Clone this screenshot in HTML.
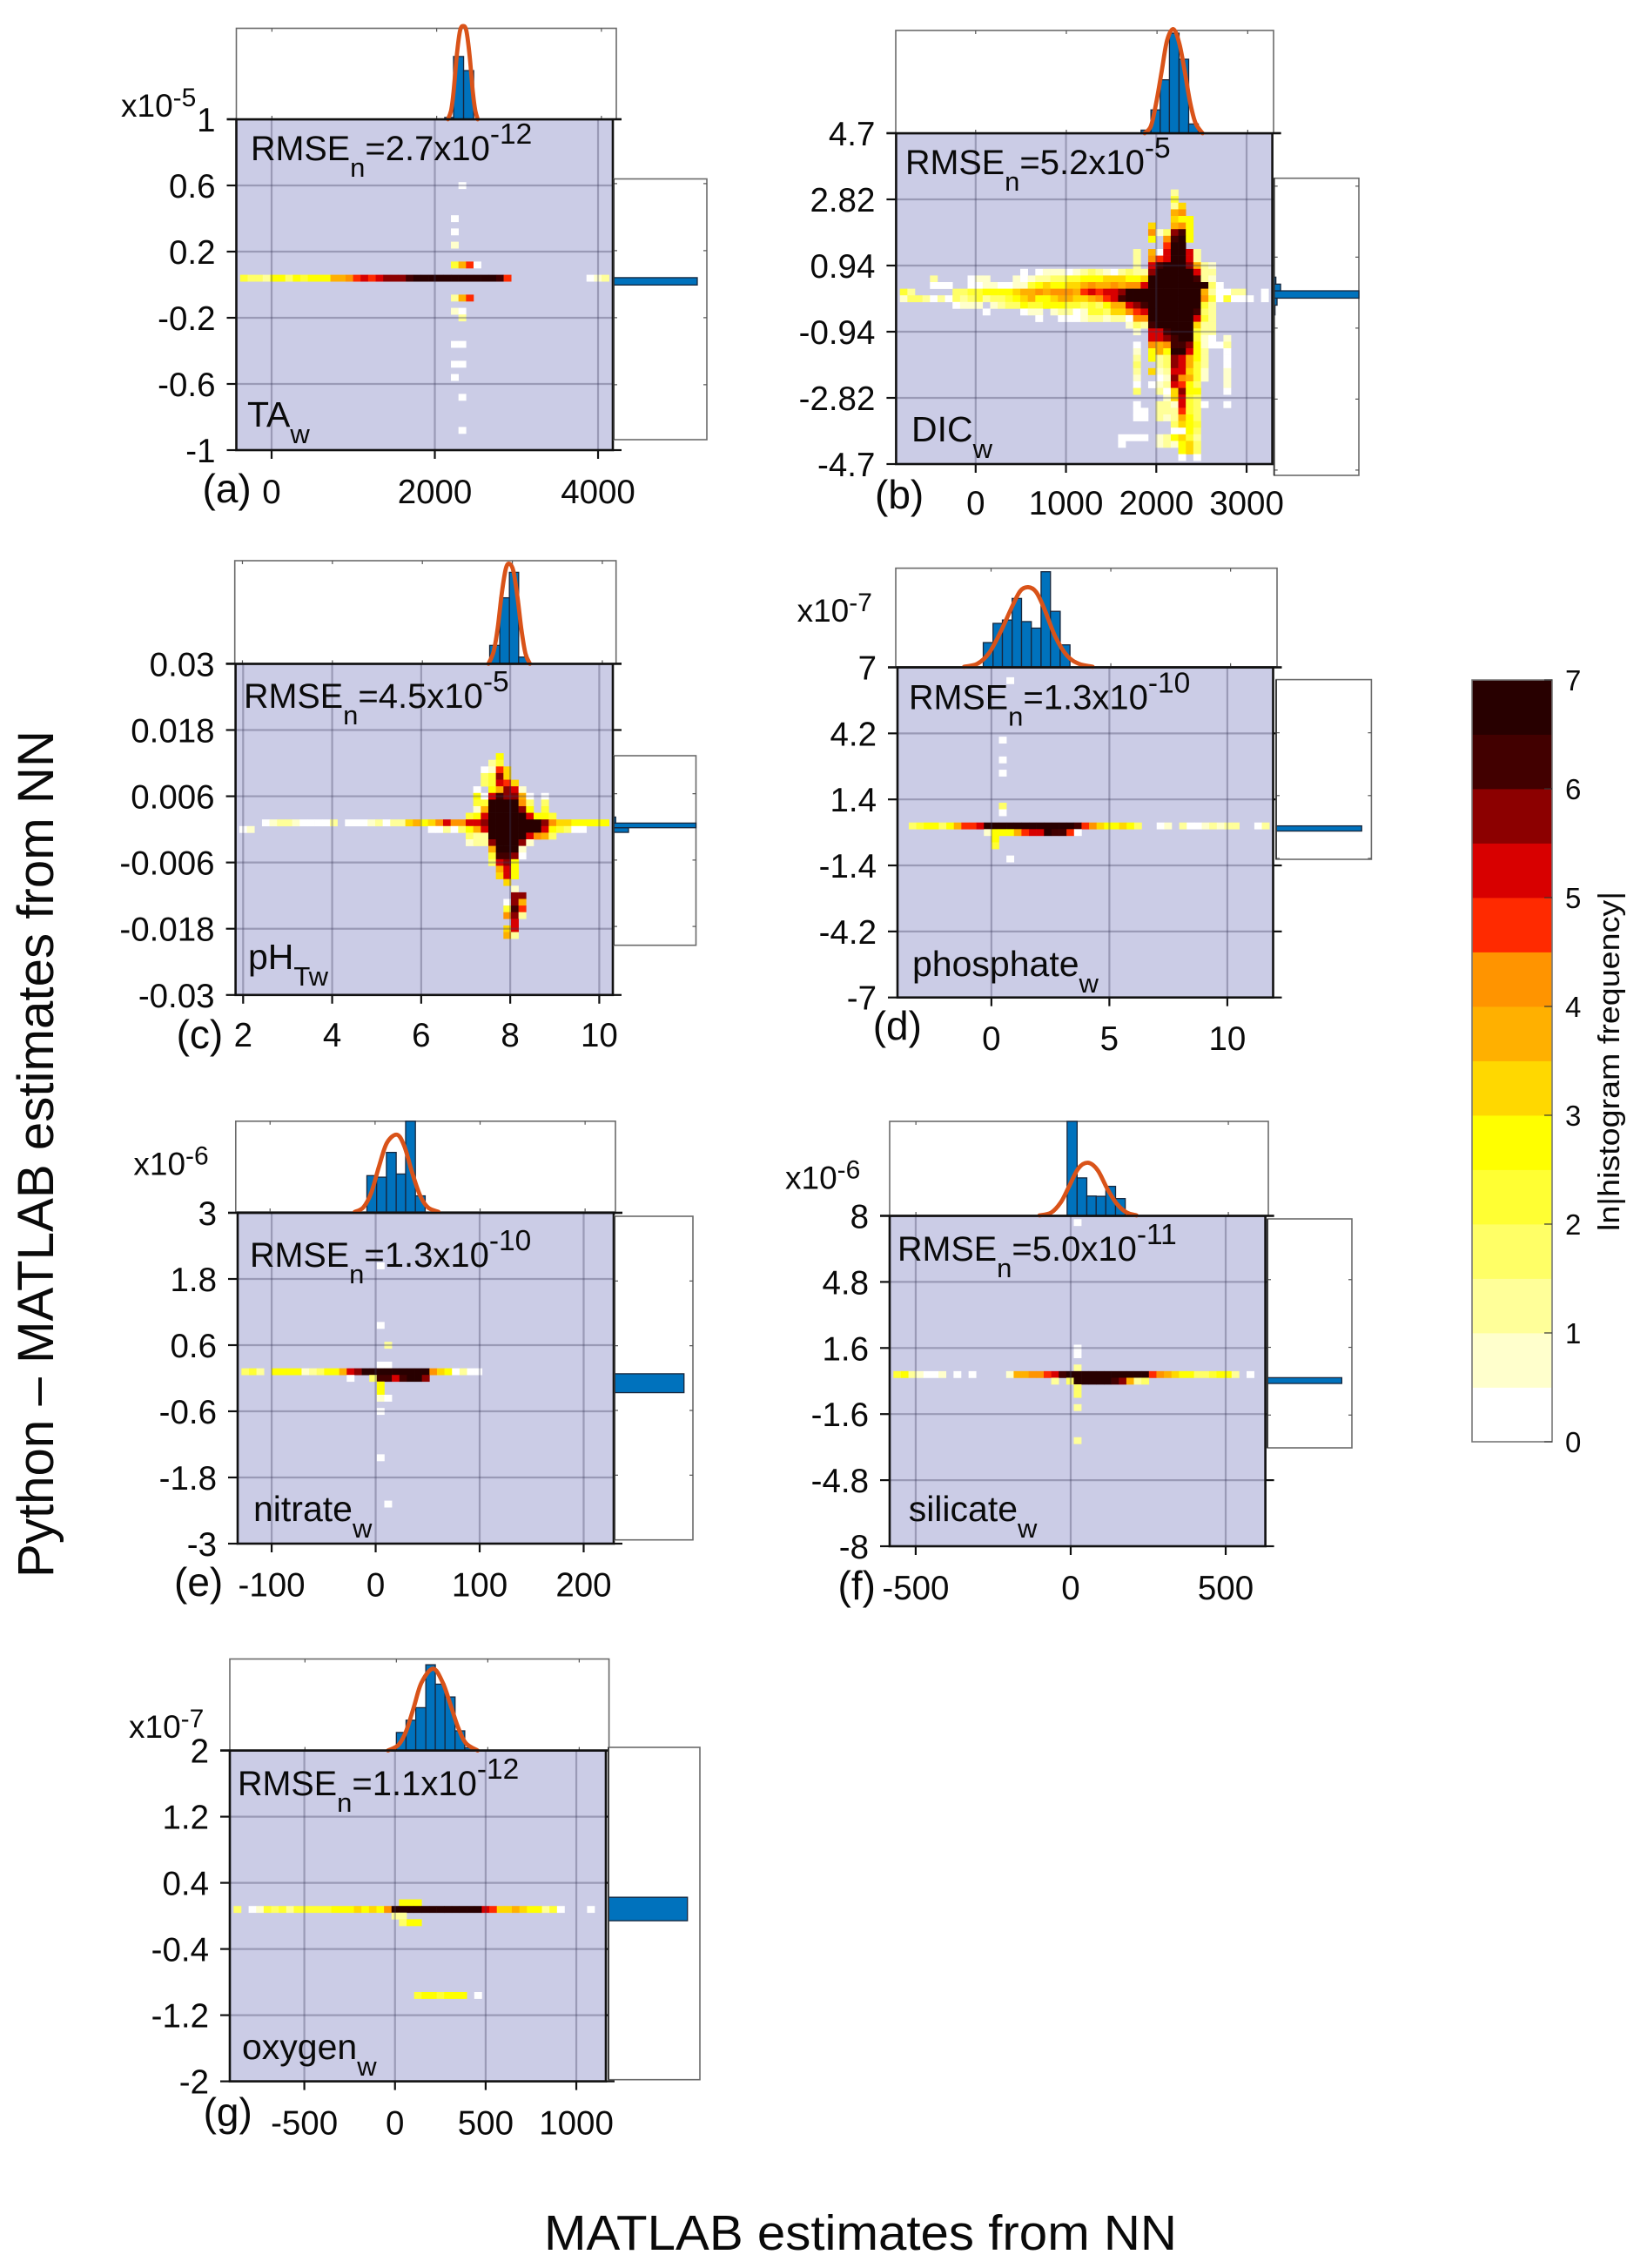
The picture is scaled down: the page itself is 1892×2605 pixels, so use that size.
<!DOCTYPE html>
<html lang="en">
<head>
<meta charset="utf-8">
<title>Python minus MATLAB estimates from NN</title>
<style>
html,body{margin:0;padding:0;background:#fff;}
svg{display:block;font-family:"Liberation Sans",Arial,sans-serif;}
text{fill:#0a0a0a;}
</style>
</head>
<body>
<svg id="figure" xmlns="http://www.w3.org/2000/svg" width="1892" height="2605" viewBox="0 0 1892 2605">
  <rect x="0" y="0" width="1892" height="2605" fill="#ffffff"/>
  <text transform="translate(61,1812) rotate(-90)" font-size="58" textLength="973" lengthAdjust="spacingAndGlyphs">Python – MATLAB estimates from NN</text>
  <text x="625" y="2584" font-size="57" textLength="727" lengthAdjust="spacingAndGlyphs">MATLAB estimates from NN</text>
  <g id="panels"></g>
  <g id="colorbar"></g>
  <text transform="translate(1860,1414) rotate(-90)" font-size="34" textLength="390" lengthAdjust="spacingAndGlyphs">ln|histogram frequency|</text>
</svg>
<script>
/* ---------- colour scale ---------- */
const cbColors = ['#ffffff','#ffffcc','#ffff99','#ffff66','#ffff33','#ffff00','#ffd800','#ffb000','#ff9400','#ff2a00','#d80000','#8c0000','#420000','#280000'];
const cbTicks = [0,1,2,3,4,5,6,7];

/* ---------- panel (a) TA ---------- */
const aXTicks = [0,2000,4000];
const aXLabels = ['0','2000','4000'];
const aYTicks = [1,0.6,0.2,-0.2,-0.6,-1];
const aYLabels = ['1','0.6','0.2','-0.2','-0.6','-1'];
const aHistEdges = [2098,2205,2327,2449];
const aHistFreq = [0.02,0.69,0.535];
const aCurveX = [2137,2176,2205,2244,2283,2322,2361,2400,2439,2468,2498];
const aCurveY = [0,0.1,0.3,0.7,0.97,1.025,0.97,0.7,0.3,0.1,0];
const aSideEdges = [-0.005,0.0388];
const aSideFreq = [0.897];
const aHeat = [
[10,30,"0"],[15,29,"0"],[17,29,"0"],[19,29,"1"],[22,29,"4790"],
[24,1,"4332553545557789a9abbbcdddddddddddc9"],[24,47,"012"],
[27,29,"279"],[29,29,"10"],[30,30,"2"],[34,29,"00"],[37,29,"00"],[39,29,"0"],[42,30,"0"],[47,30,"0"]
];

/* ---------- panel (b) DIC ---------- */
const bXTicks = [0,1000,2000,3000];
const bXLabels = ['0','1000','2000','3000'];
const bYTicks = [4.7,2.82,0.94,-0.94,-2.82,-4.7];
const bYLabels = ['4.7','2.82','0.94','-0.94','-2.82','-4.7'];
const bHistEdges = [1824,1933,2035,2137,2243,2349,2455];
const bHistFreq = [0.03,0.227,0.52,0.974,0.72,0.09];
const bCurveX = [1863,1933,1992,2051,2110,2180,2247,2306,2365,2424,2502];
const bCurveY = [0,0.07,0.3,0.6,0.9,1.013,0.87,0.6,0.3,0.1,0];
const bSideEdges = [-0.59,-0.332,-0.146,0.048,0.225,0.41];
const bSideFreq = [0.01,0.034,1,0.076,0.02];
const bHeat = [
[9,37,"2"],[10,37,"4"],[11,37,"26"],[12,37,"78"],[13,37,"655"],[14,34,"6..785"],[15,34,"813bc5"],[16,34,"5.8cd5"],[17,36,"9dd"],
[18,32,"2.70adda2"],[19,32,"2.89adda2"],[20,32,"2.acdddb721"],
[21,17,"0.011101232102322bddddda22"],
[22,5,"2"],[22,10,"011...101223344555666556ddddddc21"],
[23,5,"000"],[23,10,"00110011456556678778788adddddddd30"],
[24,1,"42"],[24,8,"33445555677878887"+"9a9aab"+"dddddddddd"+"720022..0"],
[25,1,"133202032342334567556"+"7766"+"789ac"+"dddddddddd"+"8404000.0"],
[26,8,"0111."+"123354455544343577abc"+"ddddddd"+"42"],
[27,12,"0"],[27,17,"011.122014436689a"+"dddddd"+"c32"],
[28,19,"0..000122122088"+"dddddd"+"a42"],
[29,31,"132cddddd622"],[30,32,"1.aacddd422"],[31,34,"aabcdd410.1"],[32,32,"0.878ccb51002"],
[33,32,"1.575dda52..0"],[34,32,"2.523ba752..0"],[35,32,"3..23ba742..0"],[36,32,"2.612aa641..1"],[37,32,"1..01b8741..1"],
[38,32,"0.012a953...1"],[39,32,"3..206b55...0"],[40,36,"16a43"],[41,32,"0..221a430..0"],[42,32,"00.222943"],[43,32,"00.212753"],
[44,37,"3654"],[45,37,"0053"],[46,30,"0000.125642"],[47,30,"0....121563"],[48,38,"563"],[49,38,"0.0"]
];

/* ---------- panel (c) pH ---------- */
const cXTicks = [2,4,6,8,10];
const cXLabels = ['2','4','6','8','10'];
const cYTicks = [0.03,0.018,0.006,-0.006,-0.018,-0.03];
const cYLabels = ['0.03','0.018','0.006','-0.006','-0.018','-0.03'];
const cHistEdges = [7.496,7.72,7.934,8.14,8.345];
const cHistFreq = [0.178,0.64,0.887,0.065];
const cCurveX = [7.469,7.585,7.675,7.764,7.853,7.934,8.023,8.113,8.202,8.291,8.39];
const cCurveY = [0,0.12,0.35,0.68,0.92,0.97,0.9,0.65,0.33,0.1,0];
const cSideEdges = [-0.00099,-0.00015,0.00069,0.00178];
const cSideFreq = [0.18,1,0.024];
const cHeat = [
[14,35,"5"],[15,34,"24"],[16,33,"0196"],[17,33,"34b6"],[18,33,"34a96"],[19,32,"0.57ba1"],[20,32,"50acbb70.0"],
[21,32,"44dddd83.3"],[22,32,"17ddddb5.4"],[23,31,"45addddda554"],
[24,4,"0122100002"],[24,15,"0001202267568a88aab"+"ddddddd"+"b86655555"],
[25,1,"01"],[25,26,"0020357a"+"ddddddd"+"a54300"],
[26,31,"322ddddda873"],[27,31,"122bdddb1"],[28,34,"7ddd1"],[29,34,"4ccb0"],[30,34,"3ab5"],[31,35,"7a5"],[32,35,"6a5"],[33,36,"6"],[34,37,"1"],
[35,37,"bb"],[36,36,"0b7"],[37,36,"4c9"],[38,36,"8b2"],[39,37,"a"],[40,36,"6a"],[41,36,"72"]
];

/* ---------- panel (d) phosphate ---------- */
const dXTicks = [0,5,10];
const dXLabels = ['0','5','10'];
const dYTicks = [7,4.2,1.4,-1.4,-4.2,-7];
const dYLabels = ['7','4.2','1.4','-1.4','-4.2','-7'];
const dHistEdges = [-0.326,0.082,0.473,0.881,1.272,1.68,2.088,2.48,2.887,3.295];
const dHistFreq = [0.245,0.44,0.474,0.693,0.458,0.392,0.964,0.562,0.222];
const dCurveX = [-1.126,-0.571,-0.082,0.408,0.897,1.223,1.55,1.876,2.202,2.692,3.181,3.67,4.241];
const dCurveY = [0,0.03,0.14,0.36,0.62,0.77,0.807,0.76,0.6,0.3,0.11,0.03,0];
const dSideEdges = [-0.18,0.05];
const dSideFreq = [0.898];
const dHeat = [
[2,15,"0"],[11,14,"0"],[14,14,"0"],[16,14,"0"],[21,14,"3"],[22,14,"0"],
[24,2,"345535799a"+"dddddddddddd"+"c98655653"],[24,35,"01"],[24,38,"20012122"],[24,48,"02"],
[25,12,"155579aadcc90"],[26,13,"5"],[27,13,"4"],[29,15,"0"]
];

/* ---------- panel (e) nitrate ---------- */
const eXTicks = [-100,0,100,200];
const eXLabels = ['-100','0','100','200'];
const eYTicks = [3,1.8,0.6,-0.6,-1.8,-3];
const eYLabels = ['3','1.8','0.6','-0.6','-1.8','-3'];
const eHistEdges = [-7.8,1.5,10.8,20.1,29.1,38.4,47.7];
const eHistFreq = [0.4,0.383,0.656,0.418,1,0.177];
const eCurveX = [-19.4,-11.2,-3.7,3.7,11.2,20.9,28,35.4,42.9,50.3,60.4];
const eCurveY = [0,0.05,0.21,0.5,0.76,0.851,0.72,0.43,0.18,0.05,0];
const eSideEdges = [-0.27,0.08];
const eSideFreq = [0.886];
const eHeat = [
[8,19,"0"],[17,19,"0"],[20,20,"2"],[23,19,"00"],
[24,1,"342"],[24,5,"5555"+"123"+"55"+"7ab"+"ddddddddd"+"865"+"0200"],
[25,15,"0"],[25,18,"3ccacddb"],[26,19,"5"],[27,19,"5"],[28,19,"10"],[30,19,"0"],[37,19,"0"],[44,20,"0"]
];

/* ---------- panel (f) silicate ---------- */
const fXTicks = [-500,0,500];
const fXLabels = ['-500','0','500'];
const fYTicks = [8,4.8,1.6,-1.6,-4.8,-8];
const fYLabels = ['8','4.8','1.6','-1.6','-4.8','-8'];
const fHistEdges = [-16,16,47,77,108,139,170];
const fHistFreq = [1,0.399,0.206,0.203,0.309,0.179];
const fCurveX = [-104.5,-67,-36,-11,20,51,82,113,144,175,206];
const fCurveY = [0,0.03,0.14,0.3,0.5,0.56,0.48,0.28,0.12,0.03,0];
const fSideEdges = [-0.107,0.167];
const fSideFreq = [0.88];
const fHeat = [
[1,25,"0"],[20,25,"0"],[21,25,"0"],[23,25,"2"],
[24,1,"4521001"],[24,9,"0"],[24,11,"0"],[24,16,"177889ac"+"ddddddddddd"+"987655334552"],[24,48,"0"],
[25,22,"2.3"],[25,25,"ddddd"+"cb723"],[26,25,"3"],[27,25,"3"],[29,25,"2"],[34,25,"2"]
];

/* ---------- panel (g) oxygen ---------- */
const gXTicks = [-500,0,500,1000];
const gXLabels = ['-500','0','500','1000'];
const gYTicks = [2,1.2,0.4,-0.4,-1.2,-2];
const gYLabels = ['2','1.2','0.4','-0.4','-1.2','-2'];
const gHistEdges = [0,53,106,161,213,266,321,374,427];
const gHistFreq = [0.197,0.331,0.468,0.937,0.725,0.585,0.215,0.03];
const gCurveX = [-46,11,53,95,137,201,254,296,338,380,444];
const gCurveY = [0,0.06,0.21,0.47,0.74,0.894,0.74,0.5,0.25,0.08,0];
const gSideEdges = [-0.087,0.196];
const gSideFreq = [0.864];
const gHeat = [
[23,23,"555"],[24,1,"3"],[24,3,"0143424444455565658"+"dddddddddddd"+"a9667655240"],[24,48,"0"],
[25,22,"22"],[26,23,"355"],[37,25,"4554555"],[37,33,"0"]
];

/* ---------- panel layout (axes rectangles and text anchors) ---------- */
const panels = [
 {id:'a',main:[271.5,137,704,517],top:[271.5,32.5,708,137],side:[705,205.5,812,505],xlim:[-432,4181],sideLim:[-0.928,0.628],
  xt:aXTicks,xl:aXLabels,yt:aYTicks,yl:aYLabels,he:aHistEdges,hf:aHistFreq,cx:aCurveX,cy:aCurveY,se:aSideEdges,sf:aSideFreq,heat:aHeat,
  rmse:['=2.7x10','-12'],rmsePos:[288,184],name:'TA',sub:'w',namePos:[284,490],letter:'(a)',letterPos:[232.5,577],exp:'-5',expPos:[139,134],labelBase:578},
 {id:'b',main:[1029.4,153,1461.6,533],top:[1029,35,1463,153],side:[1463.7,204.7,1561,546],xlim:[-881,3285],sideLim:[-4.84,3.03],
  xt:bXTicks,xl:bXLabels,yt:bYTicks,yl:bYLabels,he:bHistEdges,hf:bHistFreq,cx:bCurveX,cy:bCurveY,se:bSideEdges,sf:bSideFreq,heat:bHeat,
  rmse:['=5.2x10','-5'],rmsePos:[1040,200],name:'DIC',sub:'w',namePos:[1047,507],letter:'(b)',letterPos:[1005,584],labelBase:591},
 {id:'c',main:[270.6,762.4,704,1142.8],top:[269.7,644,707.7,762.4],side:[705,868,799.5,1085.7],xlim:[1.83,10.305],sideLim:[-0.0214,0.01287],
  xt:cXTicks,xl:cXLabels,yt:cYTicks,yl:cYLabels,he:cHistEdges,hf:cHistFreq,cx:cCurveX,cy:cCurveY,se:cSideEdges,sf:cSideFreq,heat:cHeat,
  rmse:['=4.5x10','-5'],rmsePos:[280,813],name:'pH',sub:'Tw',namePos:[285,1113],letter:'(c)',letterPos:[202.6,1204],labelBase:1202},
 {id:'d',main:[1031,766.5,1462.5,1145.7],top:[1029,652.6,1467,765.8],side:[1466,780.6,1575.4,987],xlim:[-3.98,11.94],sideLim:[-1.44,6.57],
  xt:dXTicks,xl:dXLabels,yt:dYTicks,yl:dYLabels,he:dHistEdges,hf:dHistFreq,cx:dCurveX,cy:dCurveY,se:dSideEdges,sf:dSideFreq,heat:dHeat,
  rmse:['=1.3x10','-10'],rmsePos:[1044,814.6],name:'phosphate',sub:'w',namePos:[1048,1121],letter:'(d)',letterPos:[1002.7,1194],exp:'-7',expPos:[915.6,714],labelBase:1206},
 {id:'e',main:[273,1393,705,1773],top:[270.8,1287.8,707,1392],side:[706,1397,796,1768.7],xlim:[-132.7,228.9],sideLim:[-3,3],
  xt:eXTicks,xl:eXLabels,yt:eYTicks,yl:eYLabels,he:eHistEdges,hf:eHistFreq,cx:eCurveX,cy:eCurveY,se:eSideEdges,sf:eSideFreq,heat:eHeat,
  rmse:['=1.3x10','-10'],rmsePos:[287,1455],name:'nitrate',sub:'w',namePos:[291,1747],letter:'(e)',letterPos:[200,1833],exp:'-6',expPos:[153.4,1349.5],labelBase:1833.5},
 {id:'f',main:[1022,1396.5,1453.6,1776],top:[1022,1288,1457,1396],side:[1456,1400,1553,1663],xlim:[-584,628],sideLim:[-3.15,7.67],
  xt:fXTicks,xl:fXLabels,yt:fYTicks,yl:fYLabels,he:fHistEdges,hf:fHistFreq,cx:fCurveX,cy:fCurveY,se:fSideEdges,sf:fSideFreq,heat:fHeat,
  rmse:['=5.0x10','-11'],rmsePos:[1031,1448],name:'silicate',sub:'w',namePos:[1043.7,1747],letter:'(f)',letterPos:[962.5,1837],exp:'-6',expPos:[902,1365.4],labelBase:1837},
 {id:'g',main:[264,2010.6,696,2390.6],top:[264,1905.5,699.6,2010.6],side:[699,2007,804,2388.7],xlim:[-911,1163],sideLim:[-2,2],noSideTicks:true,
  xt:gXTicks,xl:gXLabels,yt:gYTicks,yl:gYLabels,he:gHistEdges,hf:gHistFreq,cx:gCurveX,cy:gCurveY,se:gSideEdges,sf:gSideFreq,heat:gHeat,
  rmse:['=1.1x10','-12'],rmsePos:[273,2062],name:'oxygen',sub:'w',namePos:[278,2365],letter:'(g)',letterPos:[233.6,2442],exp:'-7',expPos:[148,1996],labelBase:2451.6}
];

const SVGNS = 'http://www.w3.org/2000/svg';
const BINS = 50;

function mk(tag, attrs, parent){
  const el = document.createElementNS(SVGNS, tag);
  for (const k in attrs) el.setAttribute(k, attrs[k]);
  parent.appendChild(el);
  return el;
}
function rich(parent, x, y, segs){
  const t = mk('text', {x:x, y:y}, parent);
  segs.forEach(function(s){
    const sp = mk('tspan', {'font-size':s[1], dy:s[2]}, t);
    sp.textContent = s[0];
  });
  return t;
}
function smoothPath(pts){
  let d = 'M' + pts[0][0].toFixed(2) + ' ' + pts[0][1].toFixed(2);
  for (let i = 0; i < pts.length - 1; i++){
    const p0 = pts[Math.max(0,i-1)], p1 = pts[i], p2 = pts[i+1], p3 = pts[Math.min(pts.length-1,i+2)];
    d += ' C' + (p1[0]+(p2[0]-p0[0])/6).toFixed(2) + ' ' + (p1[1]+(p2[1]-p0[1])/6).toFixed(2) + ' ' +
         (p2[0]-(p3[0]-p1[0])/6).toFixed(2) + ' ' + (p2[1]-(p3[1]-p1[1])/6).toFixed(2) + ' ' +
         p2[0].toFixed(2) + ' ' + p2[1].toFixed(2);
  }
  return d;
}

function drawPanel(p){
  const root = document.getElementById('panels');
  const g = mk('g', {}, root);
  
  

  const mx0 = p.main[0], my0 = p.main[1], mx1 = p.main[2], my1 = p.main[3];
  const yMax = p.yt[0], yMin = p.yt[p.yt.length-1];
  const xMain = function(v){ return mx0 + (v - p.xlim[0]) / (p.xlim[1] - p.xlim[0]) * (mx1 - mx0); };
  const yMain = function(v){ return my0 + (yMax - v) / (yMax - yMin) * (my1 - my0); };
  const tx0 = p.top[0], ty0 = p.top[1], tx1 = p.top[2], ty1 = p.top[3];
  const xTop = function(v){ return tx0 + (v - p.xlim[0]) / (p.xlim[1] - p.xlim[0]) * (tx1 - tx0); };
  const yTop = function(f){ return ty1 - f * (ty1 - ty0); };
  const sx0 = p.side[0], sy0 = p.side[1], sx1 = p.side[2], sy1 = p.side[3];
  const xSide = function(f){ return sx0 + f * (sx1 - sx0); };
  const ySide = function(v){ return sy0 + (p.sideLim[1] - v) / (p.sideLim[1] - p.sideLim[0]) * (sy1 - sy0); };
  const cellW = (mx1 - mx0) / BINS, cellH = (my1 - my0) / BINS;
  const xBin = function(i){ return mx0 + i * cellW; };
  const yBin = function(j){ return my0 + j * cellH; };

  /* main plot background */
  const bg = mk('rect', {x:mx0, y:my0, width:mx1-mx0, height:my1-my0, fill:'#cbcce6'}, g);
  
  

  /* heatmap */
  const clip = mk('clipPath', {id:'clip-' + p.id}, g);
  mk('rect', {x:mx0, y:my0, width:mx1-mx0, height:my1-my0}, clip);
  const hg = mk('g', {'clip-path':'url(#clip-' + p.id + ')'}, g);
  
  
  p.heat.forEach(function(row){
    const j = row[0], start = row[1], levels = row[2];
    for (let k = 0; k < levels.length; k++){
      if (levels[k] === '.') continue;
      const level = parseInt(levels[k], 16);
      const cell = mk('rect', {x:(xBin(start+k)-cellW/2).toFixed(2), y:(yBin(j)-cellH/2).toFixed(2), width:(cellW+0.3).toFixed(2), height:(cellH+0.3).toFixed(2), fill:cbColors[level]}, hg);
      
      
    }
  });

  /* grid */
  p.xt.forEach(function(v){
    const l = mk('line', {x1:xMain(v), x2:xMain(v), y1:my0, y2:my1, stroke:'#3c3c5a', 'stroke-opacity':0.34, 'stroke-width':2.2}, g);
    
    
  });
  p.yt.slice(1,-1).forEach(function(v){
    const l = mk('line', {x1:mx0, x2:mx1, y1:yMain(v), y2:yMain(v), stroke:'#3c3c5a', 'stroke-opacity':0.34, 'stroke-width':2.2}, g);
    
    
  });

  /* y ticks on both sides, x ticks below */
  p.yt.forEach(function(v, i){
    const y = yMain(v);
    const tl = mk('line', {x1:mx0-11, x2:mx0, y1:y, y2:y, stroke:'#111', 'stroke-width':2.2}, g);
    
    
    const tr = mk('line', {x1:mx1, x2:mx1+10, y1:y, y2:y, stroke:'#111', 'stroke-width':2.2}, g);
    
    
    const lab = mk('text', {x:mx0-24, y:y+14, 'font-size':38.5, 'text-anchor':'end'}, g);
    
    
    lab.textContent = p.yl[i];
  });
  p.xt.forEach(function(v, i){
    const x = xMain(v);
    const t = mk('line', {x1:x, x2:x, y1:my1, y2:my1+10, stroke:'#111', 'stroke-width':2.2}, g);
    
    
    const lab = mk('text', {x:x, y:p.labelBase, 'font-size':38.5, 'text-anchor':'middle'}, g);
    
    
    lab.textContent = p.xl[i];
  });

  /* main frame */
  const frame = mk('rect', {x:mx0, y:my0, width:mx1-mx0, height:my1-my0, fill:'none', stroke:'#111', 'stroke-width':2.6}, g);
  
  

  /* top histogram */
  const tg = mk('g', {}, g);
  
  
  const tbox = mk('rect', {x:tx0, y:ty0, width:tx1-tx0, height:ty1-ty0, fill:'#fff', stroke:'#6a6a6a', 'stroke-width':1.6}, tg);
  
  
  p.xt.forEach(function(v){
    const a = mk('line', {x1:xTop(v), x2:xTop(v), y1:ty0, y2:ty0+4, stroke:'#555', 'stroke-width':1.2}, tg);
    
    
    const b = mk('line', {x1:xTop(v), x2:xTop(v), y1:ty1-4, y2:ty1, stroke:'#555', 'stroke-width':1.2}, tg);
    
    
  });
  p.hf.forEach(function(f, i){
    const x = xTop(p.he[i]), x2 = xTop(p.he[i+1]);
    const bar = mk('rect', {x:x, y:yTop(f), width:x2-x, height:ty1-yTop(f), fill:'#0072bd', stroke:'#17263c', 'stroke-width':1.3}, tg);
    
    
  });
  const curvePts = p.cx.map(function(v, i){ return [xTop(v), yTop(p.cy[i])]; });
  const curve = mk('path', {d:smoothPath(curvePts), fill:'none', stroke:'#d95319', 'stroke-width':4.8, 'stroke-linecap':'round', 'stroke-linejoin':'round'}, tg);
  
  
  const base = mk('line', {x1:mx0-11, x2:mx1+10, y1:my0, y2:my0, stroke:'#111', 'stroke-width':2.6}, tg);
  
  

  /* side histogram */
  const sg = mk('g', {}, g);
  
  
  const sbox = mk('rect', {x:sx0, y:sy0, width:sx1-sx0, height:sy1-sy0, fill:'#fff', stroke:'#6a6a6a', 'stroke-width':1.6}, sg);
  
  
  if (!p.noSideTicks){
    p.yt.forEach(function(v){
      const y = ySide(v);
      if (y <= sy0 || y >= sy1) return;
      const a = mk('line', {x1:sx0, x2:sx0+4, y1:y, y2:y, stroke:'#555', 'stroke-width':1.2}, sg);
      
      
      const b = mk('line', {x1:sx1-4, x2:sx1, y1:y, y2:y, stroke:'#555', 'stroke-width':1.2}, sg);
      
      
    });
  }
  p.sf.forEach(function(f, i){
    const yTopEdge = ySide(p.se[i+1]), yBottomEdge = ySide(p.se[i]);
    const bar = mk('rect', {x:sx0, y:yTopEdge, width:xSide(f)-sx0, height:yBottomEdge-yTopEdge, fill:'#0072bd', stroke:'#17263c', 'stroke-width':1.3}, sg);
    
    
  });
  const spine = mk('line', {x1:sx0, x2:sx0, y1:sy0, y2:sy1, stroke:'#333', 'stroke-width':1.8}, sg);
  
  

  /* annotations */
  const rm = rich(g, p.rmsePos[0], p.rmsePos[1], [['RMSE',39.5,0],['n',31,19],[p.rmse[0],40,-19],[p.rmse[1],33.5,-19]]);
  
  
  const nm = rich(g, p.namePos[0], p.namePos[1], [[p.name,41,0],[p.sub,31,19]]);
  
  
  const le = mk('text', {x:p.letterPos[0], y:p.letterPos[1], 'font-size':46}, g);
  
  
  le.textContent = p.letter;
  if (p.exp){
    const ex = rich(g, p.expPos[0], p.expPos[1], [['x10',37,0],[p.exp,30,-12]]);
    
    
  }
}

function drawColorbar(){
  const g = document.getElementById('colorbar');
  const x0 = 1691, x1 = 1783, y0 = 781, y1 = 1656;
  const yCb = function(v){ return y1 - v / 7 * (y1 - y0); };
  const step = 7 / cbColors.length;
  cbColors.forEach(function(col, i){
    const top = yCb((i + 1) * step), bottom = yCb(i * step);
    const seg = mk('rect', {x:x0, y:top, width:x1-x0, height:bottom-top+0.4, fill:col}, g);
    
    
  });
  const box = mk('rect', {x:x0, y:y0, width:x1-x0, height:y1-y0, fill:'none', stroke:'#777', 'stroke-width':1.6}, g);
  
  
  cbTicks.forEach(function(v){
    const t = mk('line', {x1:x1-9, x2:x1, y1:yCb(v), y2:yCb(v), stroke:'#333', 'stroke-width':1.2}, g);
    
    
    const lab = mk('text', {x:1798, y:yCb(v)+12, 'font-size':33}, g);
    
    
    lab.textContent = String(v);
  });
}

panels.forEach(drawPanel);
drawColorbar();
</script>
</body>
</html>
